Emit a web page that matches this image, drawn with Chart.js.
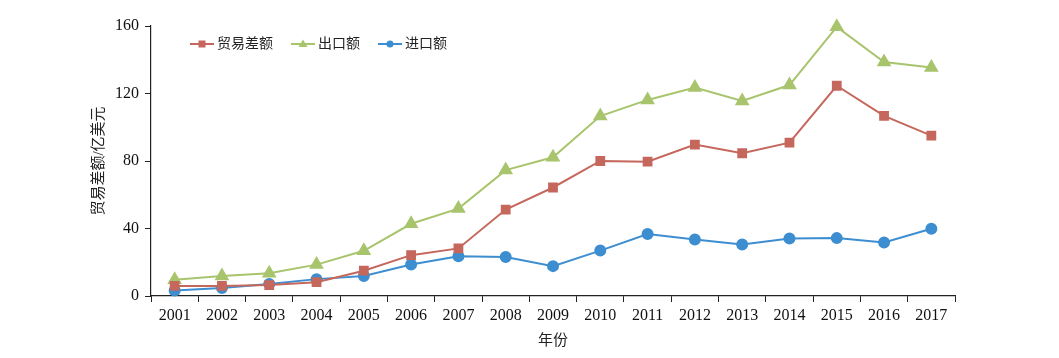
<!DOCTYPE html>
<html>
<head>
<meta charset="utf-8">
<script src="https://cdn.jsdelivr.net/npm/chart.js@4/dist/chart.umd.min.js"></script>
<style>
  body { margin: 0; background: #fff; }
  #wrap { width: 1059px; height: 358px; }
</style>
</head>
<body>
<div id="wrap"><canvas id="myChart"></canvas></div>
<script>
const years = ['2001','2002','2003','2004','2005','2006','2007','2008','2009','2010','2011','2012','2013','2014','2015','2016','2017'];
const balance = [6, 6, 6.5, 8.2, 15, 24.2, 28.2, 51.2, 64.3, 80, 79.6, 89.7, 84.6, 90.9, 124.6, 106.7, 95];
const exports = [9.6, 11.8, 13.5, 18.6, 26.8, 42.8, 51.8, 74.6, 82.2, 106.6, 116.2, 123.5, 115.6, 125, 159.5, 138.6, 135.4];
const imports = [3.3, 4.8, 7.1, 10, 11.8, 18.7, 23.6, 23.1, 17.7, 26.9, 36.7, 33.5, 30.5, 34.1, 34.3, 31.7, 39.9];
const yTicks = [0, 40, 80, 120, 160];

const serif = '"Liberation Serif", "DejaVu Serif", "Noto Sans CJK SC", serif';
const cjk = '"Liberation Serif", "Noto Sans CJK SC", serif';

// legend drawn inside the plot, top left
const innerLegend = {
    id: 'innerLegend',
    afterDraw(chart){
        const ctx = chart.ctx;
        let x = 190;
        const y = 44;
        ctx.save();
        ctx.font = '14px ' + cjk;
        ctx.textBaseline = 'middle';
        chart.data.datasets.forEach(ds => {
            ctx.strokeStyle = ds.borderColor;
            ctx.fillStyle = ds.borderColor;
            ctx.lineWidth = 2;
            ctx.beginPath();
            ctx.moveTo(x, y);
            ctx.lineTo(x + 24, y);
            ctx.stroke();
            const cx = x + 12;
            ctx.beginPath();
            if (ds.pointStyle === 'rect'){
                ctx.rect(cx - 3.5, y - 3.5, 7, 7);
            } else if (ds.pointStyle === 'triangle'){
                ctx.moveTo(cx, y - 4.5);
                ctx.lineTo(cx + 4.5, y + 3);
                ctx.lineTo(cx - 4.5, y + 3);
                ctx.closePath();
            } else {
                ctx.arc(cx, y, 3.5, 0, Math.PI * 2);
            }
            ctx.fill();
            ctx.fillStyle = '#222';
            ctx.fillText(ds.label, x + 27, y);
            x += 27 + ctx.measureText(ds.label).width + 18;
        });
        ctx.restore();
    }
};

const ctx = document.getElementById('myChart');
new Chart(ctx, {
    type: 'line',
    data: {
        labels: years,
        datasets: [{
            label: '贸易差额',
            data: balance,
            borderColor: '#C5675C',
            backgroundColor: '#C5675C',
            pointStyle: 'rect',
            pointRadius: 5.5,
            borderWidth: 2,
            clip: false
        }, {
            label: '出口额',
            data: exports,
            borderColor: '#A8C46C',
            backgroundColor: '#A8C46C',
            pointStyle: 'triangle',
            pointRadius: 6.5,
            borderWidth: 2,
            clip: false
        }, {
            label: '进口额',
            data: imports,
            borderColor: '#3D8ED0',
            backgroundColor: '#3D8ED0',
            pointStyle: 'circle',
            pointRadius: 5,
            borderWidth: 2,
            clip: false
        }]
    },
    options: {
        responsive: true,
        maintainAspectRatio: false,
        animation: false,
        layout: { padding: { left: 88, right: 104, top: 26, bottom: 0 } },
        plugins: {
            legend: { display: false },
            tooltip: { enabled: false }
        },
        scales: {
            x: {
                offset: true,
                afterFit(scale){ scale.height = 62; },
                border: { color: '#222', width: 1.2 },
                grid: { offset: true, drawOnChartArea: false, drawTicks: true, tickLength: 6, color: '#222' },
                ticks: { color: '#111', font: { family: serif, size: 16 }, padding: 4, maxRotation: 0, autoSkip: false },
                title: { display: true, text: '年份', color: '#222', font: { family: cjk, size: 15 }, padding: { top: 0, bottom: 8 } }
            },
            y: {
                min: 0,
                max: 160,
                afterFit(scale){ scale.width = 63; },
                afterBuildTicks(scale){ scale.ticks = yTicks.map(v => ({ value: v })); },
                border: { color: '#222', width: 1.2 },
                grid: { drawOnChartArea: false, drawTicks: true, tickLength: 6, color: '#222' },
                ticks: { color: '#111', font: { family: serif, size: 16 }, padding: 6 },
                title: { display: true, text: '贸易差额/亿美元', color: '#222', font: { family: cjk, size: 15 }, padding: { top: 2, bottom: 0 } }
            }
        }
    },
    plugins: [innerLegend]
});
</script>
</body>
</html>
